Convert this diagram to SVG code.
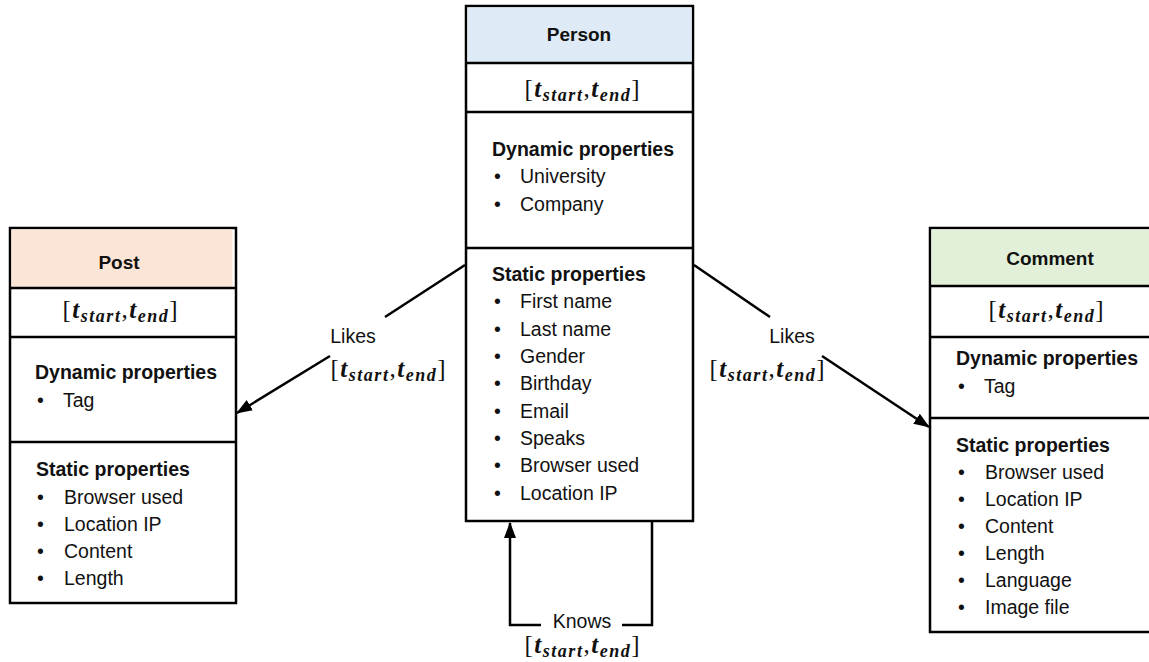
<svg xmlns="http://www.w3.org/2000/svg" width="1149" height="662" viewBox="0 0 1149 662">
<style>
.box{fill:#fff;stroke:#000;stroke-width:2.5}
.div{stroke:#000;stroke-width:2.5}
.hd{font-family:"Liberation Sans",Arial,sans-serif;font-size:19px;font-weight:bold;fill:#111;text-anchor:middle}
.bh{font-family:"Liberation Sans",Arial,sans-serif;font-size:19.5px;font-weight:bold;fill:#111}
.it{font-family:"Liberation Sans",Arial,sans-serif;font-size:19.5px;fill:#111}
.lbl{font-family:"Liberation Sans",Arial,sans-serif;font-size:19.5px;fill:#111;text-anchor:middle}
.m{font-family:"Liberation Serif","Times New Roman",serif;font-size:25px;fill:#111;text-anchor:middle}
.t{font-weight:bold;font-style:italic}
.s{font-size:18px;font-style:italic;font-weight:bold}
.ln{stroke:#000;stroke-width:2.5;fill:none}
</style>
<defs>
<marker id="ah" viewBox="0 0 16 12" refX="15" refY="6" markerWidth="16" markerHeight="12" markerUnits="userSpaceOnUse" orient="auto">
<path d="M0,0 L16,6 L0,12 z" fill="#000"/>
</marker>
</defs>

<g id="person">
<rect class="box" x="466" y="6" width="227" height="515"/>
<rect x="467.5" y="7.5" width="224" height="55" fill="#DEEBF7"/>
<line class="div" x1="466" y1="63" x2="693" y2="63"/>
<line class="div" x1="466" y1="112" x2="693" y2="112"/>
<line class="div" x1="466" y1="248" x2="693" y2="248"/>
<text class="hd" x="579" y="41">Person</text>
<text class="m" x="582" y="97" textLength="115" lengthAdjust="spacing">[<tspan class="t">t</tspan><tspan class="s" dy="4">start</tspan><tspan dy="-4">,</tspan><tspan class="t">t</tspan><tspan class="s" dy="4">end</tspan><tspan dy="-4">]</tspan></text>
<text class="bh" x="492" y="156">Dynamic properties</text>
<text class="it" x="494" y="183">•</text><text class="it" x="520" y="183">University</text>
<text class="it" x="494" y="211">•</text><text class="it" x="520" y="211">Company</text>
<text class="bh" x="492" y="281">Static properties</text>
<text class="it" x="494" y="308">•</text><text class="it" x="520" y="308">First name</text>
<text class="it" x="494" y="335.5">•</text><text class="it" x="520" y="335.5">Last name</text>
<text class="it" x="494" y="363">•</text><text class="it" x="520" y="363">Gender</text>
<text class="it" x="494" y="390">•</text><text class="it" x="520" y="390">Birthday</text>
<text class="it" x="494" y="417.5">•</text><text class="it" x="520" y="417.5">Email</text>
<text class="it" x="494" y="445">•</text><text class="it" x="520" y="445">Speaks</text>
<text class="it" x="494" y="472">•</text><text class="it" x="520" y="472">Browser used</text>
<text class="it" x="494" y="499.5">•</text><text class="it" x="520" y="499.5">Location IP</text>
</g>

<g id="post">
<rect class="box" x="10" y="228" width="226" height="375"/>
<rect x="11.5" y="229.5" width="221" height="58" fill="#FBE5D6"/>
<line class="div" x1="10" y1="288" x2="236" y2="288"/>
<line class="div" x1="10" y1="337" x2="236" y2="337"/>
<line class="div" x1="10" y1="442" x2="236" y2="442"/>
<text class="hd" x="119" y="269">Post</text>
<text class="m" x="120" y="318" textLength="115" lengthAdjust="spacing">[<tspan class="t">t</tspan><tspan class="s" dy="4">start</tspan><tspan dy="-4">,</tspan><tspan class="t">t</tspan><tspan class="s" dy="4">end</tspan><tspan dy="-4">]</tspan></text>
<text class="bh" x="35" y="379">Dynamic properties</text>
<text class="it" x="37" y="407">•</text><text class="it" x="63" y="407">Tag</text>
<text class="bh" x="36" y="476">Static properties</text>
<text class="it" x="37" y="504">•</text><text class="it" x="64" y="504">Browser used</text>
<text class="it" x="37" y="531">•</text><text class="it" x="64" y="531">Location IP</text>
<text class="it" x="37" y="558">•</text><text class="it" x="64" y="558">Content</text>
<text class="it" x="37" y="585">•</text><text class="it" x="64" y="585">Length</text>
</g>

<g id="comment">
<rect class="box" x="930" y="228" width="230" height="404"/>
<rect x="931.5" y="229.5" width="230" height="56" fill="#E2F0D9"/>
<line class="div" x1="930" y1="286" x2="1149" y2="286"/>
<line class="div" x1="930" y1="337" x2="1149" y2="337"/>
<line class="div" x1="930" y1="418" x2="1149" y2="418"/>
<text class="hd" x="1050" y="265">Comment</text>
<text class="m" x="1046" y="318" textLength="115" lengthAdjust="spacing">[<tspan class="t">t</tspan><tspan class="s" dy="4">start</tspan><tspan dy="-4">,</tspan><tspan class="t">t</tspan><tspan class="s" dy="4">end</tspan><tspan dy="-4">]</tspan></text>
<text class="bh" x="956" y="365">Dynamic properties</text>
<text class="it" x="958" y="393">•</text><text class="it" x="984" y="393">Tag</text>
<text class="bh" x="956" y="452">Static properties</text>
<text class="it" x="958" y="479">•</text><text class="it" x="985" y="479">Browser used</text>
<text class="it" x="958" y="506">•</text><text class="it" x="985" y="506">Location IP</text>
<text class="it" x="958" y="533">•</text><text class="it" x="985" y="533">Content</text>
<text class="it" x="958" y="560">•</text><text class="it" x="985" y="560">Length</text>
<text class="it" x="958" y="587">•</text><text class="it" x="985" y="587">Language</text>
<text class="it" x="958" y="614">•</text><text class="it" x="985" y="614">Image file</text>
</g>

<g id="connectors">
<line class="ln" x1="465" y1="265" x2="385" y2="317"/>
<line class="ln" x1="330" y1="356" x2="237" y2="413" marker-end="url(#ah)"/>
<text class="lbl" x="353" y="343">Likes</text>
<text class="m" x="388" y="377" textLength="115" lengthAdjust="spacing">[<tspan class="t">t</tspan><tspan class="s" dy="4">start</tspan><tspan dy="-4">,</tspan><tspan class="t">t</tspan><tspan class="s" dy="4">end</tspan><tspan dy="-4">]</tspan></text>

<line class="ln" x1="694" y1="265" x2="770" y2="317"/>
<line class="ln" x1="822" y1="356" x2="929" y2="427" marker-end="url(#ah)"/>
<text class="lbl" x="792" y="343">Likes</text>
<text class="m" x="767" y="377" textLength="115" lengthAdjust="spacing">[<tspan class="t">t</tspan><tspan class="s" dy="4">start</tspan><tspan dy="-4">,</tspan><tspan class="t">t</tspan><tspan class="s" dy="4">end</tspan><tspan dy="-4">]</tspan></text>

<polyline class="ln" points="541,625 510,625 510,523" marker-end="url(#ah)"/>
<polyline class="ln" points="622,625 652,625 652,522"/>
<text class="lbl" x="582" y="628">Knows</text>
<text class="m" x="582" y="653" textLength="115" lengthAdjust="spacing">[<tspan class="t">t</tspan><tspan class="s" dy="4">start</tspan><tspan dy="-4">,</tspan><tspan class="t">t</tspan><tspan class="s" dy="4">end</tspan><tspan dy="-4">]</tspan></text>
</g>
</svg>
